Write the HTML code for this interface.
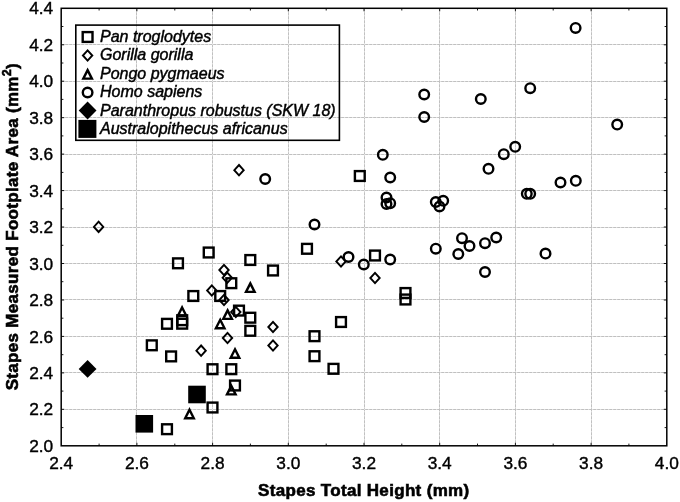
<!DOCTYPE html>
<html lang="en"><head><meta charset="utf-8"><title>Stapes scatter plot</title>
<style>html,body{margin:0;padding:0;background:#fff}body{width:680px;height:502px;overflow:hidden}svg{display:block}text{font-family:"Liberation Sans",Arial,sans-serif;fill:#000;stroke:#000;stroke-width:.3px}.tk{font-size:17.3px;stroke-width:.4px}.ax{font-size:17px;font-weight:bold;stroke-width:.6px}.lg{font-size:16px;font-style:italic;stroke-width:.45px}.grid line{stroke:#c0c0c0;stroke-width:1;stroke-dasharray:3 1}.grid .u{stroke:#e8e8e8;stroke-dasharray:none}.open{fill:none;stroke:#000;stroke-width:2.4}.dia{fill:none;stroke:#000;stroke-width:1.9}.fill{fill:#000}.tick line{stroke:#000;stroke-width:.9}</style></head><body>
<svg width="680" height="502" viewBox="0 0 680 502">
<rect width="680" height="502" fill="#fff"/>
<g class="grid"><line class="u" x1="136.5" y1="8.3" x2="136.5" y2="445.8"/><line x1="136.5" y1="8.3" x2="136.5" y2="445.8"/><line class="u" x1="212.5" y1="8.3" x2="212.5" y2="445.8"/><line x1="212.5" y1="8.3" x2="212.5" y2="445.8"/><line class="u" x1="288.5" y1="8.3" x2="288.5" y2="445.8"/><line x1="288.5" y1="8.3" x2="288.5" y2="445.8"/><line class="u" x1="364.5" y1="8.3" x2="364.5" y2="445.8"/><line x1="364.5" y1="8.3" x2="364.5" y2="445.8"/><line class="u" x1="439.5" y1="8.3" x2="439.5" y2="445.8"/><line x1="439.5" y1="8.3" x2="439.5" y2="445.8"/><line class="u" x1="515.5" y1="8.3" x2="515.5" y2="445.8"/><line x1="515.5" y1="8.3" x2="515.5" y2="445.8"/><line class="u" x1="591.5" y1="8.3" x2="591.5" y2="445.8"/><line x1="591.5" y1="8.3" x2="591.5" y2="445.8"/><line class="u" x1="61.2" y1="409.5" x2="666.8" y2="409.5"/><line x1="61.2" y1="409.5" x2="666.8" y2="409.5"/><line class="u" x1="61.2" y1="372.5" x2="666.8" y2="372.5"/><line x1="61.2" y1="372.5" x2="666.8" y2="372.5"/><line class="u" x1="61.2" y1="336.5" x2="666.8" y2="336.5"/><line x1="61.2" y1="336.5" x2="666.8" y2="336.5"/><line class="u" x1="61.2" y1="299.5" x2="666.8" y2="299.5"/><line x1="61.2" y1="299.5" x2="666.8" y2="299.5"/><line class="u" x1="61.2" y1="263.5" x2="666.8" y2="263.5"/><line x1="61.2" y1="263.5" x2="666.8" y2="263.5"/><line class="u" x1="61.2" y1="227.5" x2="666.8" y2="227.5"/><line x1="61.2" y1="227.5" x2="666.8" y2="227.5"/><line class="u" x1="61.2" y1="190.5" x2="666.8" y2="190.5"/><line x1="61.2" y1="190.5" x2="666.8" y2="190.5"/><line class="u" x1="61.2" y1="154.5" x2="666.8" y2="154.5"/><line x1="61.2" y1="154.5" x2="666.8" y2="154.5"/><line class="u" x1="61.2" y1="117.5" x2="666.8" y2="117.5"/><line x1="61.2" y1="117.5" x2="666.8" y2="117.5"/><line class="u" x1="61.2" y1="81.5" x2="666.8" y2="81.5"/><line x1="61.2" y1="81.5" x2="666.8" y2="81.5"/><line class="u" x1="61.2" y1="44.5" x2="666.8" y2="44.5"/><line x1="61.2" y1="44.5" x2="666.8" y2="44.5"/></g>
<g class="tick"><line x1="99.1" y1="445.8" x2="99.1" y2="443.6"/><line x1="99.1" y1="8.3" x2="99.1" y2="10.5"/><line x1="136.9" y1="445.8" x2="136.9" y2="442.8"/><line x1="136.9" y1="8.3" x2="136.9" y2="11.3"/><line x1="174.8" y1="445.8" x2="174.8" y2="443.6"/><line x1="174.8" y1="8.3" x2="174.8" y2="10.5"/><line x1="212.6" y1="445.8" x2="212.6" y2="442.8"/><line x1="212.6" y1="8.3" x2="212.6" y2="11.3"/><line x1="250.4" y1="445.8" x2="250.4" y2="443.6"/><line x1="250.4" y1="8.3" x2="250.4" y2="10.5"/><line x1="288.3" y1="445.8" x2="288.3" y2="442.8"/><line x1="288.3" y1="8.3" x2="288.3" y2="11.3"/><line x1="326.2" y1="445.8" x2="326.2" y2="443.6"/><line x1="326.2" y1="8.3" x2="326.2" y2="10.5"/><line x1="364.0" y1="445.8" x2="364.0" y2="442.8"/><line x1="364.0" y1="8.3" x2="364.0" y2="11.3"/><line x1="401.8" y1="445.8" x2="401.8" y2="443.6"/><line x1="401.8" y1="8.3" x2="401.8" y2="10.5"/><line x1="439.7" y1="445.8" x2="439.7" y2="442.8"/><line x1="439.7" y1="8.3" x2="439.7" y2="11.3"/><line x1="477.5" y1="445.8" x2="477.5" y2="443.6"/><line x1="477.5" y1="8.3" x2="477.5" y2="10.5"/><line x1="515.4" y1="445.8" x2="515.4" y2="442.8"/><line x1="515.4" y1="8.3" x2="515.4" y2="11.3"/><line x1="553.2" y1="445.8" x2="553.2" y2="443.6"/><line x1="553.2" y1="8.3" x2="553.2" y2="10.5"/><line x1="591.1" y1="445.8" x2="591.1" y2="442.8"/><line x1="591.1" y1="8.3" x2="591.1" y2="11.3"/><line x1="628.9" y1="445.8" x2="628.9" y2="443.6"/><line x1="628.9" y1="8.3" x2="628.9" y2="10.5"/><line x1="61.2" y1="427.6" x2="63.400000000000006" y2="427.6"/><line x1="666.8" y1="427.6" x2="664.5999999999999" y2="427.6"/><line x1="61.2" y1="409.3" x2="64.2" y2="409.3"/><line x1="666.8" y1="409.3" x2="663.8" y2="409.3"/><line x1="61.2" y1="391.1" x2="63.400000000000006" y2="391.1"/><line x1="666.8" y1="391.1" x2="664.5999999999999" y2="391.1"/><line x1="61.2" y1="372.9" x2="64.2" y2="372.9"/><line x1="666.8" y1="372.9" x2="663.8" y2="372.9"/><line x1="61.2" y1="354.7" x2="63.400000000000006" y2="354.7"/><line x1="666.8" y1="354.7" x2="664.5999999999999" y2="354.7"/><line x1="61.2" y1="336.4" x2="64.2" y2="336.4"/><line x1="666.8" y1="336.4" x2="663.8" y2="336.4"/><line x1="61.2" y1="318.2" x2="63.400000000000006" y2="318.2"/><line x1="666.8" y1="318.2" x2="664.5999999999999" y2="318.2"/><line x1="61.2" y1="300.0" x2="64.2" y2="300.0"/><line x1="666.8" y1="300.0" x2="663.8" y2="300.0"/><line x1="61.2" y1="281.7" x2="63.400000000000006" y2="281.7"/><line x1="666.8" y1="281.7" x2="664.5999999999999" y2="281.7"/><line x1="61.2" y1="263.5" x2="64.2" y2="263.5"/><line x1="666.8" y1="263.5" x2="663.8" y2="263.5"/><line x1="61.2" y1="245.3" x2="63.400000000000006" y2="245.3"/><line x1="666.8" y1="245.3" x2="664.5999999999999" y2="245.3"/><line x1="61.2" y1="227.0" x2="64.2" y2="227.0"/><line x1="666.8" y1="227.0" x2="663.8" y2="227.0"/><line x1="61.2" y1="208.8" x2="63.400000000000006" y2="208.8"/><line x1="666.8" y1="208.8" x2="664.5999999999999" y2="208.8"/><line x1="61.2" y1="190.6" x2="64.2" y2="190.6"/><line x1="666.8" y1="190.6" x2="663.8" y2="190.6"/><line x1="61.2" y1="172.4" x2="63.400000000000006" y2="172.4"/><line x1="666.8" y1="172.4" x2="664.5999999999999" y2="172.4"/><line x1="61.2" y1="154.1" x2="64.2" y2="154.1"/><line x1="666.8" y1="154.1" x2="663.8" y2="154.1"/><line x1="61.2" y1="135.9" x2="63.400000000000006" y2="135.9"/><line x1="666.8" y1="135.9" x2="664.5999999999999" y2="135.9"/><line x1="61.2" y1="117.7" x2="64.2" y2="117.7"/><line x1="666.8" y1="117.7" x2="663.8" y2="117.7"/><line x1="61.2" y1="99.4" x2="63.400000000000006" y2="99.4"/><line x1="666.8" y1="99.4" x2="664.5999999999999" y2="99.4"/><line x1="61.2" y1="81.2" x2="64.2" y2="81.2"/><line x1="666.8" y1="81.2" x2="663.8" y2="81.2"/><line x1="61.2" y1="63.0" x2="63.400000000000006" y2="63.0"/><line x1="666.8" y1="63.0" x2="664.5999999999999" y2="63.0"/><line x1="61.2" y1="44.8" x2="64.2" y2="44.8"/><line x1="666.8" y1="44.8" x2="663.8" y2="44.8"/><line x1="61.2" y1="26.5" x2="63.400000000000006" y2="26.5"/><line x1="666.8" y1="26.5" x2="664.5999999999999" y2="26.5"/></g>
<rect x="61.2" y="8.3" width="605.5999999999999" height="437.5" fill="none" stroke="#000" stroke-width="1.5"/>
<text class="tk" x="53.2" y="451.9" text-anchor="end">2.0</text>
<text class="tk" x="53.2" y="415.4" text-anchor="end">2.2</text>
<text class="tk" x="53.2" y="379.0" text-anchor="end">2.4</text>
<text class="tk" x="53.2" y="342.5" text-anchor="end">2.6</text>
<text class="tk" x="53.2" y="306.1" text-anchor="end">2.8</text>
<text class="tk" x="53.2" y="269.6" text-anchor="end">3.0</text>
<text class="tk" x="53.2" y="233.1" text-anchor="end">3.2</text>
<text class="tk" x="53.2" y="196.7" text-anchor="end">3.4</text>
<text class="tk" x="53.2" y="160.2" text-anchor="end">3.6</text>
<text class="tk" x="53.2" y="123.8" text-anchor="end">3.8</text>
<text class="tk" x="53.2" y="87.3" text-anchor="end">4.0</text>
<text class="tk" x="53.2" y="50.9" text-anchor="end">4.2</text>
<text class="tk" x="53.2" y="14.4" text-anchor="end">4.4</text>
<text class="tk" x="61.2" y="468.9" text-anchor="middle">2.4</text>
<text class="tk" x="136.9" y="468.9" text-anchor="middle">2.6</text>
<text class="tk" x="212.6" y="468.9" text-anchor="middle">2.8</text>
<text class="tk" x="288.3" y="468.9" text-anchor="middle">3.0</text>
<text class="tk" x="364.0" y="468.9" text-anchor="middle">3.2</text>
<text class="tk" x="439.7" y="468.9" text-anchor="middle">3.4</text>
<text class="tk" x="515.4" y="468.9" text-anchor="middle">3.6</text>
<text class="tk" x="591.1" y="468.9" text-anchor="middle">3.8</text>
<text class="tk" x="666.8" y="468.9" text-anchor="middle">4.0</text>
<text class="ax" x="258" y="496.2" textLength="211.2">Stapes Total Height (mm)</text>
<text class="ax" transform="translate(17.9 390.3) rotate(-90)" textLength="327">Stapes Measured Footplate Area (mm<tspan font-size="12.5" dy="-6.7">2</tspan><tspan dy="6.7">)</tspan></text>
<g class="open"><rect x="173.1" y="258.4" width="9.8" height="9.8"/><rect x="203.8" y="247.6" width="9.8" height="9.8"/><rect x="245.4" y="255.1" width="9.8" height="9.8"/><rect x="268.1" y="265.6" width="9.8" height="9.8"/><rect x="226.4" y="278.3" width="9.8" height="9.8"/><rect x="188.4" y="291.1" width="9.8" height="9.8"/><rect x="215.3" y="291.1" width="9.8" height="9.8"/><rect x="234.1" y="305.7" width="9.8" height="9.8"/><rect x="245.4" y="312.8" width="9.8" height="9.8"/><rect x="245.4" y="325.9" width="9.8" height="9.8"/><rect x="162.1" y="318.9" width="9.8" height="9.8"/><rect x="177.3" y="315.3" width="9.8" height="9.8"/><rect x="177.3" y="318.8" width="9.8" height="9.8"/><rect x="146.9" y="340.4" width="9.8" height="9.8"/><rect x="166.2" y="351.5" width="9.8" height="9.8"/><rect x="207.6" y="364.3" width="9.8" height="9.8"/><rect x="226.4" y="364.3" width="9.8" height="9.8"/><rect x="230.1" y="380.6" width="9.8" height="9.8"/><rect x="207.6" y="402.6" width="9.8" height="9.8"/><rect x="162.1" y="424.3" width="9.8" height="9.8"/><rect x="354.9" y="171.1" width="9.8" height="9.8"/><rect x="302.1" y="243.9" width="9.8" height="9.8"/><rect x="370.1" y="250.6" width="9.8" height="9.8"/><rect x="400.6" y="288.1" width="9.8" height="9.8"/><rect x="400.6" y="294.6" width="9.8" height="9.8"/><rect x="336.1" y="317.1" width="9.8" height="9.8"/><rect x="309.6" y="331.3" width="9.8" height="9.8"/><rect x="309.6" y="351.3" width="9.8" height="9.8"/><rect x="328.6" y="363.9" width="9.8" height="9.8"/><path d="M250.3 283.4L254.6 291.9L246.0 291.9Z"/><path d="M182.1 307.5L186.4 316.0L177.8 316.0Z"/><path d="M227.6 310.4L231.9 318.9L223.3 318.9Z"/><path d="M220.2 319.8L224.5 328.3L215.9 328.3Z"/><path d="M235.0 349.3L239.3 357.8L230.7 357.8Z"/><path d="M231.3 385.9L235.6 394.4L227.0 394.4Z"/><path d="M189.5 409.7L193.8 418.2L185.2 418.2Z"/><circle cx="575.6" cy="27.9" r="4.8"/><circle cx="617.2" cy="124.6" r="4.8"/><circle cx="424.2" cy="94.5" r="4.8"/><circle cx="424.2" cy="117.0" r="4.8"/><circle cx="480.8" cy="99.0" r="4.8"/><circle cx="530.2" cy="88.2" r="4.8"/><circle cx="382.8" cy="154.8" r="4.8"/><circle cx="390.2" cy="177.5" r="4.8"/><circle cx="386.5" cy="197.5" r="4.8"/><circle cx="386.5" cy="204.0" r="4.8"/><circle cx="390.2" cy="203.2" r="4.8"/><circle cx="435.8" cy="202.0" r="4.8"/><circle cx="443.2" cy="200.8" r="4.8"/><circle cx="439.5" cy="206.5" r="4.8"/><circle cx="314.5" cy="224.5" r="4.8"/><circle cx="265.2" cy="179.0" r="4.8"/><circle cx="348.5" cy="257.0" r="4.8"/><circle cx="363.8" cy="264.5" r="4.8"/><circle cx="390.2" cy="259.5" r="4.8"/><circle cx="435.8" cy="248.7" r="4.8"/><circle cx="515.2" cy="146.8" r="4.8"/><circle cx="503.8" cy="154.2" r="4.8"/><circle cx="488.5" cy="168.8" r="4.8"/><circle cx="560.5" cy="182.5" r="4.8"/><circle cx="575.8" cy="180.8" r="4.8"/><circle cx="526.8" cy="193.8" r="4.8"/><circle cx="530.2" cy="193.8" r="4.8"/><circle cx="462.0" cy="238.2" r="4.8"/><circle cx="469.5" cy="246.0" r="4.8"/><circle cx="485.0" cy="243.2" r="4.8"/><circle cx="496.2" cy="237.5" r="4.8"/><circle cx="458.3" cy="254.0" r="4.8"/><circle cx="545.5" cy="253.6" r="4.8"/><circle cx="485.0" cy="272.0" r="4.8"/></g>
<g class="dia"><path d="M98.6 221.7L103.3 226.9L98.6 232.0L93.9 226.9Z"/><path d="M239.0 165.0L243.7 170.2L239.0 175.3L234.3 170.2Z"/><path d="M224.0 264.8L228.7 270.0L224.0 275.1L219.3 270.0Z"/><path d="M227.3 272.6L232.0 277.8L227.3 282.9L222.6 277.8Z"/><path d="M211.8 285.3L216.5 290.5L211.8 295.6L207.1 290.5Z"/><path d="M224.0 294.8L228.7 300.0L224.0 305.1L219.3 300.0Z"/><path d="M235.8 306.8L240.5 312.0L235.8 317.1L231.1 312.0Z"/><path d="M273.0 321.8L277.7 327.0L273.0 332.1L268.3 327.0Z"/><path d="M227.5 332.8L232.2 338.0L227.5 343.1L222.8 338.0Z"/><path d="M273.0 340.3L277.7 345.5L273.0 350.6L268.3 345.5Z"/><path d="M201.1 345.5L205.8 350.7L201.1 355.8L196.4 350.7Z"/><path d="M341.0 256.3L345.7 261.5L341.0 266.6L336.3 261.5Z"/><path d="M375.0 272.8L379.7 278.0L375.0 283.1L370.3 278.0Z"/></g>
<g class="fill"><rect x="188.2" y="385.7" width="17.6" height="17.6"/><rect x="135.5" y="415.0" width="17.6" height="17.6"/><path d="M87.6 360.0L96.5 368.9L87.6 377.8L78.7 368.9Z"/></g>
<rect x="75.8" y="25.1" width="263.6" height="115.2" fill="none" stroke="#000" stroke-width="1.6"/>
<g class="open"><rect x="82.7" y="32.1" width="9.8" height="9.8"/><path d="M87.6 70.1L91.9 78.6L83.3 78.6Z"/><circle cx="87.6" cy="92.5" r="4.8"/></g>
<g class="dia"><path d="M87.6 50.3L92.3 55.5L87.6 60.6L82.9 55.5Z"/></g>
<g class="fill"><path d="M87.6 101.6L96.5 110.5L87.6 119.4L78.7 110.5Z"/><rect x="78.4" y="119.9" width="18" height="18"/></g>
<text class="lg" x="100" y="41.8">Pan troglodytes</text>
<text class="lg" x="100" y="60.3">Gorilla gorilla</text>
<text class="lg" x="100" y="78.8">Pongo pygmaeus</text>
<text class="lg" x="100" y="97.3">Homo sapiens</text>
<text class="lg" x="100" y="115.8">Paranthropus robustus (SKW 18)</text>
<text class="lg" x="100" y="134.3">Australopithecus africanus</text>
</svg></body></html>
